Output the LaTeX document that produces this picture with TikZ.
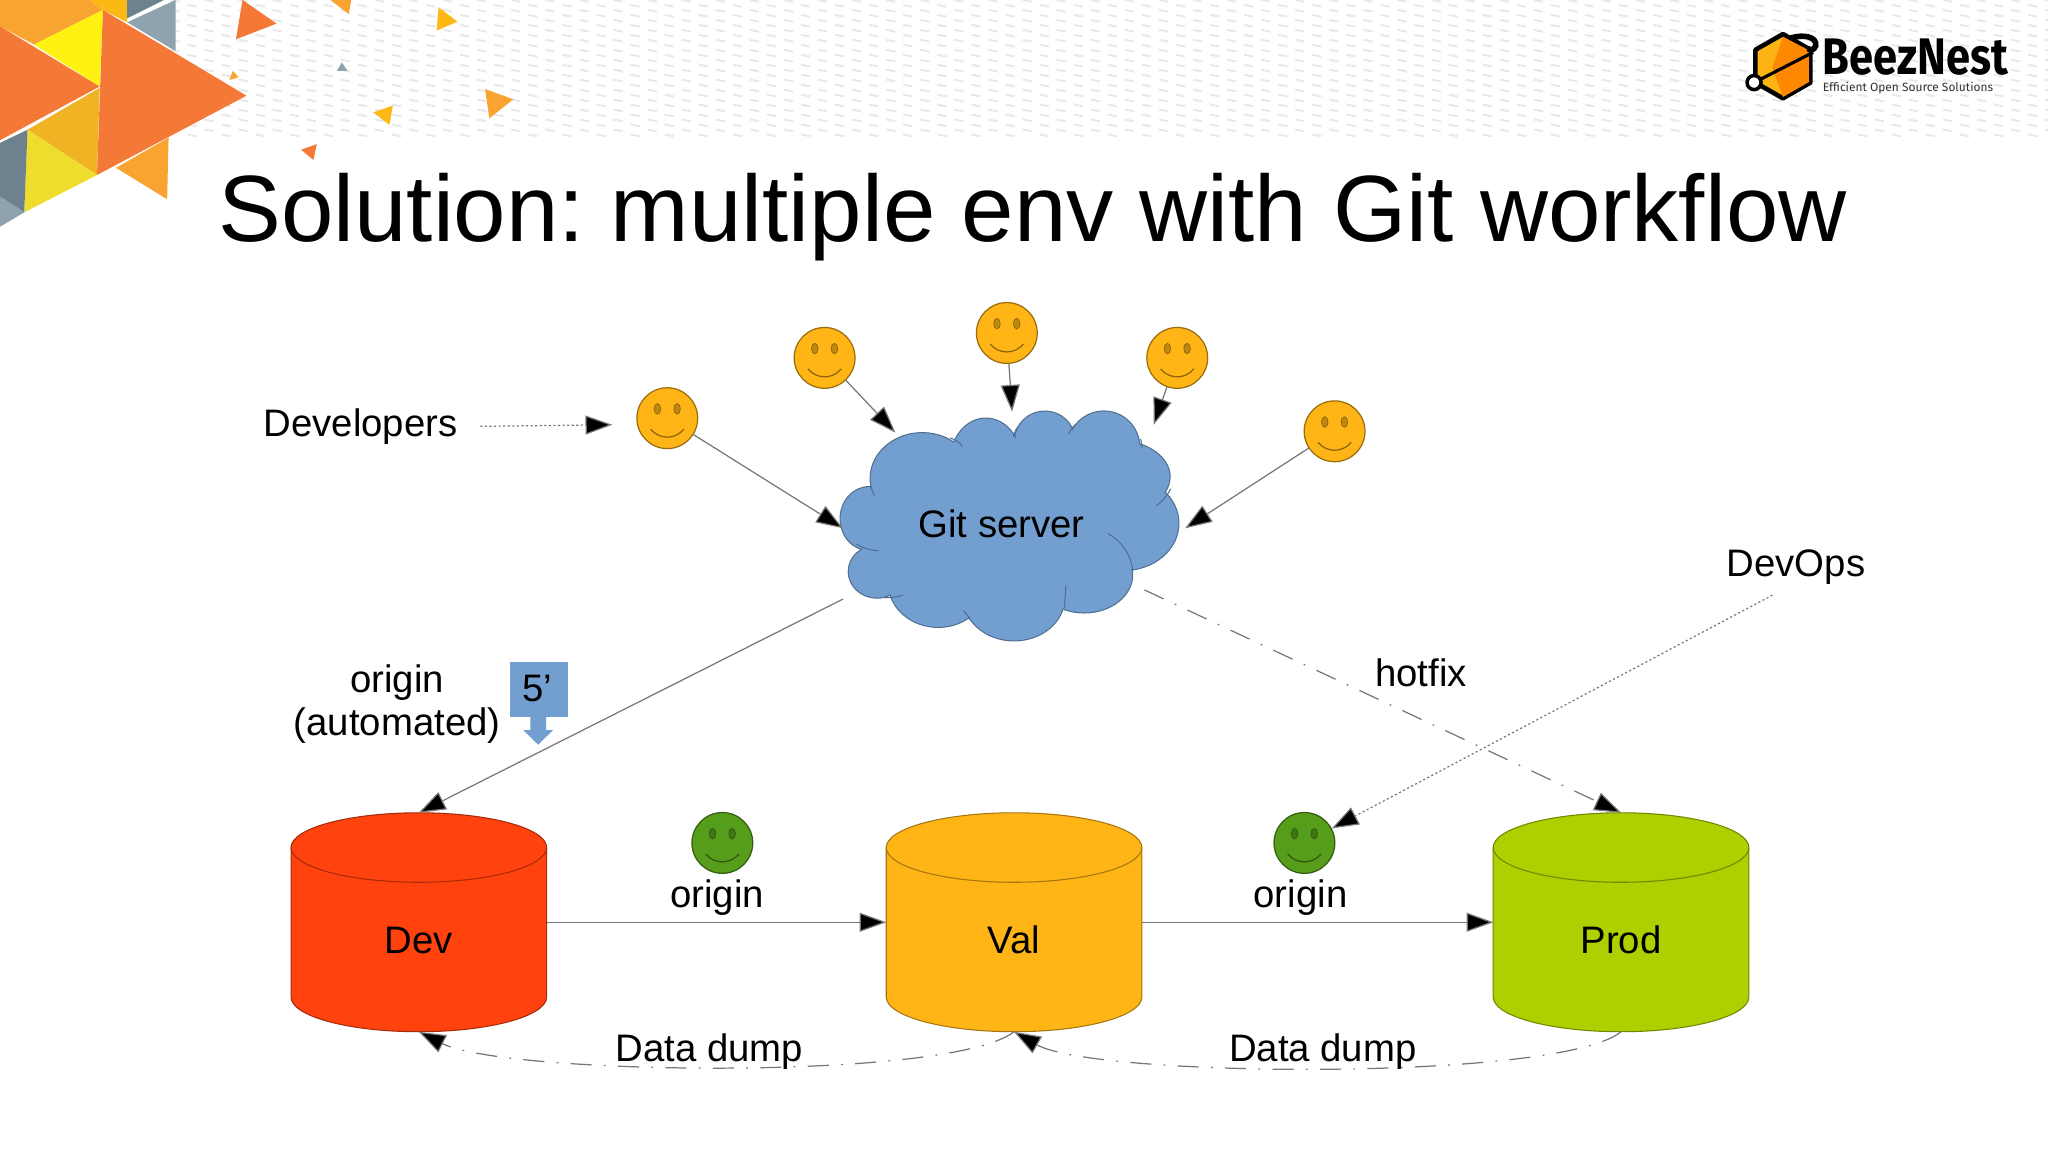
\documentclass[tikz,border=0pt]{standalone}
\usepackage{fontspec}
\setmainfont{Liberation Sans}
\newfontfamily\logofont{Fira Sans}
\usetikzlibrary{arrows.meta}
\frenchspacing

\definecolor{tOrange}{HTML}{F47937}
\definecolor{tAmber}{HTML}{F9A431}
\definecolor{tGold}{HTML}{FDB913}
\definecolor{tDeep}{HTML}{F0B323}
\definecolor{tPale}{HTML}{EFDD2D}
\definecolor{tLemon}{HTML}{FFF212}
\definecolor{tGrayD}{HTML}{6E818E}
\definecolor{tGrayL}{HTML}{8FA3AF}
\definecolor{cloudblue}{HTML}{729FCF}
\definecolor{devred}{HTML}{FF420E}
\definecolor{valorange}{HTML}{FFB516}
\definecolor{prodgreen}{HTML}{AECF00}
\definecolor{devgreen}{HTML}{579D1C}
\definecolor{linegray}{HTML}{777777}

\tikzset{
  lbl/.style={font=\fontsize{10.9}{12.3}\selectfont,inner sep=0pt,text=black},
  conn/.style={draw=linegray,line width=.35pt,-{Triangle[length=7.6pt,width=5.4pt,fill=black]}},
  dots/.style={conn,dash pattern=on .6pt off .7pt},
  dashdot/.style={conn,dash pattern=on 6pt off 3.5pt on .5pt off 3.5pt},
  face/.style={circle,minimum size=17.3pt,inner sep=0pt,line width=.35pt},
  db/.style={rectangle,minimum width=72.7pt,minimum height=62.3pt,inner sep=0pt,outer sep=0pt},
  lobe/.style={fill=cloudblue,draw=cloudblue!70!black,line width=.3pt},
  stub/.style={draw=cloudblue!70!black,line width=.3pt},
}

% name, x, y, fill
\newcommand{\smiley}[4]{
  \node[face,fill=#4,draw=#4!60!black] (#1) at (#2,#3) {};
  \fill[#4!75!black,draw=#4!55!black,line width=.2pt] (#2-7.5,#3-7.1) ellipse [x radius=2.5,y radius=4];
  \fill[#4!75!black,draw=#4!55!black,line width=.2pt] (#2+7.5,#3-7.1) ellipse [x radius=2.5,y radius=4];
  \draw[#4!55!black,line width=.35pt] (#2-12.7,#3+8.4) .. controls (#2-6,#3+16.5) and (#2+6,#3+16.5) .. (#2+12.7,#3+8.4);
}
% name, centre x, fill, text
\newcommand{\database}[4]{
  \filldraw[fill=#3,draw=#3!65!black,line width=.3pt]
    (#2-97.5,646.5) arc [start angle=180,end angle=0,x radius=97.5,y radius=-26.5]
    -- (#2+97.5,760.5) arc [start angle=0,end angle=-180,x radius=97.5,y radius=-26.5] -- cycle;
  \draw[#3!65!black,line width=.3pt] (#2-97.5,646.5) arc [start angle=180,end angle=360,x radius=97.5,y radius=-26.5];
  \node[db] (#1) at (#2,703.5) {};
  \node[lbl,anchor=base] (#1-t) at (#2,727) {#4};
}

\begin{document}
\begin{tikzpicture}[x=0.01311cm,y=-0.01311cm]
\useasboundingbox (0,0) rectangle (1562.2,878.7);
\fill[white] (0,0) rectangle (1562.2,878.7);

% dashed paper pattern in the top band
\foreach \i in {0,...,110}{
  \pgfmathsetmacro{\xx}{130+13*\i}
  \pgfmathsetmacro{\off}{mod(\i,2)*3.8}
  \foreach \j in {0,...,13}{
    \pgfmathsetmacro{\yy}{\off+7.6*\j}
    \draw[black!9,line width=.55pt] (\xx,\yy) -- (\xx+7,\yy+1.3);
  }
}

% triangles, top left
\fill[tAmber] (0,0) -- (68,0) -- (78.5,7.6) -- (26,34) -- (0,20) -- cycle;
\fill[tGold] (68,0) -- (97,0) -- (97,17) -- (78.5,7.6) -- cycle;
\fill[tGrayD] (97,0) -- (125,0) -- (97,14) -- cycle;
\fill[tGrayL] (97,17) -- (134,0) -- (134,39) -- cycle;
\fill[tLemon] (26,34) -- (78.5,7.6) -- (76,66) -- cycle;
\fill[tAmber] (88.5,128) -- (128.6,105) -- (127.5,152) -- cycle;
\fill[tDeep] (76,67) -- (74,133.5) -- (21,99) -- cycle;
\fill[tPale] (21,99) -- (74,133.5) -- (18.5,162) -- cycle;
\fill[tGrayD] (0,109) -- (21,99) -- (18.5,162) -- (0,150) -- cycle;
\fill[tGrayL] (0,150) -- (18.5,162) -- (0,173) -- cycle;
\fill[tOrange] (0,20) -- (76,66) -- (0,107) -- cycle;
\fill[tOrange] (78.5,7.6) -- (188,73) -- (74,133.5) -- cycle;
\fill[tOrange] (185,0) -- (211,18) -- (180,30) -- cycle;
\fill[tAmber] (252,0) -- (268,0) -- (266,10.7) -- cycle;
\fill[tGold] (334.6,5.6) -- (349,16.5) -- (333,23.4) -- cycle;
\fill[tGrayL] (260.8,47.6) -- (265,54) -- (257,54) -- cycle;
\fill[tAmber] (177.6,54) -- (182,59) -- (175,61) -- cycle;
\fill[tGold] (299.7,80.6) -- (297,95.3) -- (284.7,85.7) -- cycle;
\fill[tAmber] (370,67.9) -- (391.5,75.8) -- (373.3,90.3) -- cycle;
\fill[tOrange] (241.7,110) -- (239,122) -- (229.7,114.2) -- cycle;

% logo
\fill[tGold!90!orange,draw=black,line width=1.3pt,line join=round]
  (1360,26) -- (1381,38) -- (1381,63) -- (1360,75) -- (1339,63) -- (1339,38) -- cycle;
\fill[orange!85!tGold] (1360,28) -- (1380,38.5) -- (1380,62.5) -- (1360,74) -- (1352,52) -- cycle;
\draw[black,line width=.9pt] (1338,63) -- (1383,40);
\draw[black,line width=1.6pt] (1366,29) .. controls (1376,26) and (1386,28) .. (1385,35) .. controls (1384,38) and (1381,39) .. (1379,37);
\node[circle,fill=white,draw=black,line width=1pt,minimum size=4pt,inner sep=0pt] (logodot) at (1338,63) {};
\node[inner sep=0pt,anchor=base west] (logoname) at (1390,57)
  {\scalebox{.93}[1.1]{\fontsize{13.3}{14}\logofont\bfseries BeezNest}};
\node[inner sep=0pt,anchor=base west,text=black!80] (logotag) at (1390,69.5)
  {\fontsize{3.4}{4}\logofont Efficient Open Source Solutions};

% title
\node[inner sep=0pt,anchor=base west] (title) at (166,184)
  {\fontsize{26.8}{30}\selectfont Solution: multiple env with Git workflow};

% cloud
\foreach \cx/\cy/\rx/\ry in {703.5/365/39.8/35,662.8/395.6/22/24.4,669/436/22/20.3,715.6/445/38/33.6,
    773.5/456.4/38.6/32.5,827/438.6/37/29,857.3/399.2/42/36,851/363.6/41.6/28,842/340.7/27.4/27.2,
    797/335.6/23/22,752/350.9/27/32}{
  \draw[lobe] (\cx,\cy) ellipse [x radius=\rx,y radius=\ry];
}
\foreach \cx/\cy/\rx/\ry in {703.5/365/39.8/35,662.8/395.6/22/24.4,669/436/22/20.3,715.6/445/38/33.6,
    773.5/456.4/38.6/32.5,827/438.6/37/29,857.3/399.2/42/36,851/363.6/41.6/28,842/340.7/27.4/27.2,
    797/335.6/23/22,752/350.9/27/32}{
  \fill[cloudblue] (\cx,\cy) ellipse [x radius=\rx-.8,y radius=\ry-.8];
}
\fill[cloudblue] (672,385) -- (700,350) -- (745,335) -- (775,338) -- (815,338) -- (860,345) -- (885,385)
  -- (860,435) -- (815,460) -- (770,470) -- (710,470) -- (672,445) -- cycle;
\draw[stub] (664,371) .. controls (666,375) and (666,377) .. (667,378);
\draw[stub] (653,415) .. controls (660,419) and (666,420) .. (670,420);
\draw[stub] (725,334) .. controls (730,336) and (733,338) .. (734,341);
\draw[stub] (773,333) .. controls (774,329) and (775,327) .. (777,325);
\draw[stub] (815,331) .. controls (817,327) and (819,325) .. (820,324);
\draw[stub] (870,335) .. controls (871,338) and (871,340) .. (871,342);
\draw[stub] (882,386) .. controls (887,382) and (891,377) .. (893,373);
\draw[stub] (845,407) .. controls (860,415) and (864,430) .. (864,436);
\draw[stub] (812,464) .. controls (812,458) and (813,452) .. (813,447);
\draw[stub] (735,466) .. controls (737,468) and (739,470) .. (740,473);
\draw[stub] (675,456) .. controls (680,456) and (685,455) .. (689,454);
\node[lbl,anchor=base] (git) at (764,410) {Git server};

% developers
\smiley{s1}{509}{319}{valorange}
\smiley{s2}{629}{273}{valorange}
\smiley{s3}{768}{254}{valorange}
\smiley{s4}{898}{273}{valorange}
\smiley{s5}{1018}{329}{valorange}
\smiley{g1}{551}{643}{devgreen}
\smiley{g2}{995}{643}{devgreen}

\coordinate (t1) at (643,403);
\coordinate (t2) at (683,330);
\coordinate (t3) at (772,314);
\coordinate (t4) at (880,324);
\coordinate (t5) at (904,403);
\coordinate (tdev) at (467,324);
\coordinate (fromgit) at (643,457);
\coordinate (fromhot) at (873,450);
\coordinate (fromops) at (1352,454);

\node[lbl,anchor=base] (devlbl) at (275,333) {Developers};
\node[lbl,anchor=base] (opslbl) at (1370,440) {DevOps};
\node[lbl,anchor=base] (hotlbl) at (1084,524) {hotfix};
\node[lbl,align=center] (autolbl) at (303,537) {origin\\(automated)};

% timer
\fill[cloudblue] (389,505) rectangle (433,547);
\fill[cloudblue] (404.5,547) -- (416.5,547) -- (416.5,557) -- (421.8,557) -- (410.5,568) -- (399.2,557) -- (404.5,557) -- cycle;
\node[lbl,anchor=base] (timer) at (410,535) {5’};

% databases
\database{dev}{319.5}{devred}{Dev}
\database{val}{773.5}{valorange}{Val}
\database{prod}{1236.5}{prodgreen}{Prod}

\node[lbl,anchor=base] (or1) at (547,692) {origin};
\node[lbl,anchor=base] (or2) at (992,692) {origin};
\node[lbl,anchor=base] (dd1) at (541,810) {Data dump};
\node[lbl,anchor=base] (dd2) at (1009,810) {Data dump};

% connectors
\draw[conn] (s1) -- (t1);
\draw[conn] (s2) -- (t2);
\draw[conn] (s3) -- (t3);
\draw[conn] (s4) -- (t4);
\draw[conn] (s5) -- (t5);
\draw[dots,shorten <=6.3pt] (devlbl.east) -- (tdev);
\draw[dots] (fromops) -- (g2);
\draw[conn] (fromgit) -- (dev.north);
\draw[dashdot] (fromhot) -- (prod.north);
\draw[conn] (dev.east) -- (val.west);
\draw[conn] (val.east) -- (prod.west);
\draw[dashdot] (prod.south) .. controls (1190,825) and (835,822) .. (val.south);
\draw[dashdot] (val.south) .. controls (725,825) and (385,820) .. (dev.south);
\end{tikzpicture}
\end{document}
